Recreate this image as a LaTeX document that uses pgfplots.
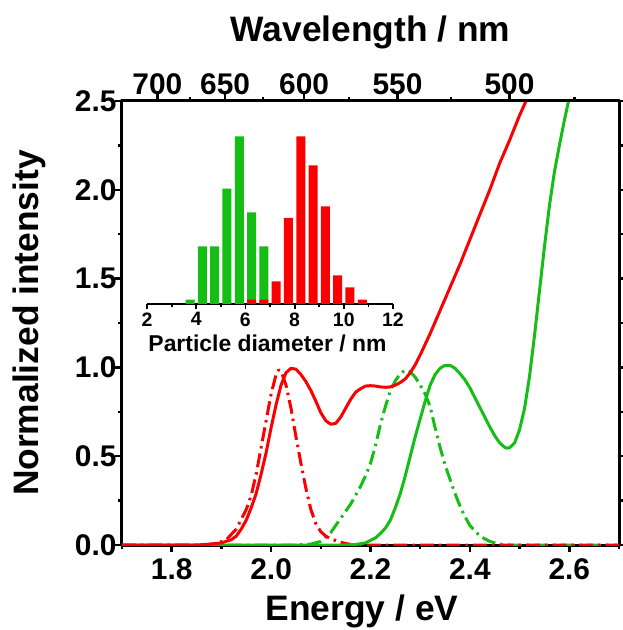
\documentclass[border=0pt]{standalone}
\usepackage{fontspec}
\setmainfont{Liberation Sans}
\usepackage{pgfplots}
\pgfplotsset{compat=1.18}
\definecolor{cred}{RGB}{250,0,0}
\definecolor{cgreen}{RGB}{20,190,20}
\newcommand{\tickfont}{\fontsize{30}{34}\selectfont\bfseries}
\newcommand{\labfont}{\fontsize{35.5}{40}\selectfont\bfseries}
\newcommand{\itickfont}{\fontsize{19.5}{22}\selectfont\bfseries}
\newcommand{\ilabfont}{\fontsize{23}{26}\selectfont\bfseries}
\begin{document}
\begin{tikzpicture}
\begin{axis}[name=main, at={(0,0)}, anchor=south west,
  scale only axis, width=497bp, height=444bp,
  xmin=1.7, xmax=2.7, ymin=0, ymax=2.5,
  xtick={1.8,2.0,2.2,2.4,2.6}, minor xtick={1.7,1.9,2.1,2.3,2.5,2.7},
  ytick={0,0.5,1.0,1.5,2.0,2.5}, minor ytick={0.25,0.75,1.25,1.75,2.25},
  xtick pos=left, ytick pos=both, yticklabel pos=left,
  tick align=outside,
  major tick length=7bp, minor tick length=4bp,
  tick style={black, line width=2.5bp},
  axis line style={line width=3bp},
  /pgf/number format/assume math mode=true,
  /pgf/number format/fixed, /pgf/number format/fixed zerofill, /pgf/number format/precision=1,
  xticklabel style={font=\tickfont, yshift=-3bp},
  yticklabel style={font=\tickfont, xshift=5bp},
  xlabel={Energy / eV}, ylabel={Normalized intensity},
  xlabel style={font=\labfont, at={(axis description cs:0.483,-0.169)}, anchor=base},
  ylabel style={font=\labfont, at={(axis description cs:-0.169,0.5)}, anchor=base, rotate=0},
  line join=round,
]
% green dash-dot (emission, small particles)
\addplot[cgreen, line width=3bp, dash pattern=on 14bp off 5bp on 2.5bp off 5bp] coordinates {
(1.70,0) (2.05,0) (2.08,0.005) (2.10,0.02) (2.12,0.07) (2.14,0.15) (2.16,0.23) (2.18,0.33)
(2.19,0.39) (2.20,0.46) (2.21,0.56) (2.22,0.68) (2.23,0.78) (2.24,0.87) (2.25,0.925) (2.26,0.965)
(2.27,0.985) (2.28,0.975) (2.29,0.945) (2.30,0.90) (2.31,0.85) (2.32,0.78) (2.33,0.66) (2.34,0.55)
(2.35,0.45) (2.36,0.37) (2.37,0.29) (2.38,0.22) (2.39,0.16) (2.40,0.11) (2.42,0.05) (2.44,0.02)
(2.46,0.005) (2.48,0) (2.70,0)};
% red dash-dot (emission, large particles)
\addplot[cred, line width=3bp, dash pattern=on 14bp off 5bp on 2.5bp off 5bp] coordinates {
(1.70,0) (1.86,0) (1.89,0.008) (1.91,0.03) (1.93,0.09) (1.95,0.20) (1.96,0.28) (1.97,0.40)
(1.98,0.55) (1.99,0.70) (2.00,0.85) (2.01,0.96) (2.015,0.985) (2.02,0.98) (2.03,0.90) (2.04,0.77)
(2.05,0.61) (2.06,0.46) (2.07,0.32) (2.08,0.20) (2.09,0.12) (2.10,0.075) (2.11,0.05) (2.12,0.035)
(2.14,0.015) (2.16,0.003) (2.18,0) (2.70,0)};
% green solid (absorption, small particles)
\addplot[cgreen, line width=3bp] coordinates {
(1.70,0) (2.15,0) (2.17,0.003) (2.19,0.012) (2.21,0.04) (2.22,0.065) (2.23,0.095) (2.24,0.14)
(2.25,0.21) (2.26,0.29) (2.27,0.39) (2.28,0.50) (2.29,0.61) (2.30,0.71) (2.31,0.81) (2.32,0.90)
(2.33,0.96) (2.34,0.995) (2.35,1.012) (2.36,1.012) (2.37,0.995) (2.38,0.965) (2.39,0.93) (2.40,0.885)
(2.41,0.83) (2.42,0.775) (2.43,0.72) (2.44,0.665) (2.45,0.615) (2.46,0.575) (2.47,0.55) (2.475,0.545)
(2.48,0.548) (2.49,0.575) (2.50,0.65) (2.51,0.77) (2.52,0.95) (2.53,1.18) (2.54,1.43) (2.55,1.68)
(2.56,1.91) (2.57,2.10) (2.58,2.25) (2.59,2.39) (2.60,2.52)};
% red solid (absorption, large particles)
\addplot[cred, line width=3bp] coordinates {
(1.70,0) (1.85,0) (1.88,0.005) (1.90,0.012) (1.92,0.03) (1.93,0.05) (1.94,0.09) (1.95,0.14)
(1.96,0.21) (1.97,0.29) (1.98,0.40) (1.99,0.52) (2.00,0.66) (2.01,0.79) (2.02,0.90) (2.03,0.97)
(2.04,0.995) (2.05,0.99) (2.06,0.96) (2.07,0.92) (2.08,0.87) (2.09,0.81) (2.10,0.745) (2.11,0.70)
(2.12,0.68) (2.13,0.685) (2.14,0.72) (2.15,0.77) (2.16,0.82) (2.17,0.86) (2.18,0.88) (2.19,0.895)
(2.20,0.897) (2.21,0.895) (2.22,0.89) (2.23,0.888) (2.24,0.89) (2.25,0.90) (2.26,0.915) (2.27,0.935)
(2.28,0.97) (2.29,1.015) (2.30,1.07) (2.31,1.13) (2.32,1.19) (2.34,1.32) (2.36,1.45) (2.38,1.58)
(2.40,1.72) (2.42,1.86) (2.44,2.00) (2.46,2.15) (2.48,2.28) (2.50,2.42) (2.513,2.50) (2.53,2.62)};
\end{axis}
% top wavelength axis
\begin{axis}[at={(0,0)}, anchor=south west,
  scale only axis, width=497bp, height=444bp,
  xmin=1.7, xmax=2.7, ymin=0, ymax=2.5,
  axis x line*=top, axis y line=none,
  xtick={1.77120,1.90745,2.06640,2.25425,2.47968},
  xticklabels={700,650,600,550,500},
  minor xtick={1.83680,1.98374,2.15624,2.36160,2.61019},
  tick align=outside,
  major tick length=7bp, minor tick length=4bp,
  tick style={black, line width=2.5bp},
  axis line style={line width=3bp},
  xticklabel style={font=\tickfont, yshift=-4bp},
  xlabel={Wavelength / nm},
  xlabel style={font=\labfont, at={(axis description cs:0.5,1.133)}, anchor=base},
]
\addplot[draw=none] coordinates {(2,1)};
\end{axis}
% inset histogram
\begin{axis}[at={(25bp,241bp)}, anchor=south west,
  scale only axis, width=246bp, height=170bp,
  xmin=2, xmax=12, ymin=0, ymax=170,
  axis x line*=bottom, axis y line=none,
  xtick={2,4,6,8,10,12}, minor xtick={3,5,7,9,11},
  tick align=outside,
  major tick length=5bp, minor tick length=3bp,
  tick style={black, line width=1.8bp},
  axis line style={line width=2bp},
  /pgf/number format/assume math mode=true,
  xticklabel style={font=\itickfont},
  xlabel={Particle diameter / nm},
  xlabel style={font=\ilabfont, at={(axis description cs:0.49,-0.282)}, anchor=base},
]
\addplot[ybar, bar width=9bp, bar shift=0pt, fill=cgreen, draw=none] coordinates {
(3.75,4.3) (4.25,57.7) (4.75,57.7) (5.25,115.3) (5.75,167.7) (6.25,91.7) (6.75,57.7)};
\addplot[ybar, bar width=9bp, bar shift=0pt, fill=cred, draw=none] coordinates {
(6.25,4.3) (6.75,4.3) (7.25,22.7) (7.75,86) (8.25,167.7) (8.75,138.7) (9.25,97.7) (9.75,28.7) (10.25,16.7) (10.75,4.3)};
\end{axis}
\pgfresetboundingbox
\path[use as bounding box] (-122bp,-85bp) rectangle (501bp,545bp);
\end{tikzpicture}
\end{document}
